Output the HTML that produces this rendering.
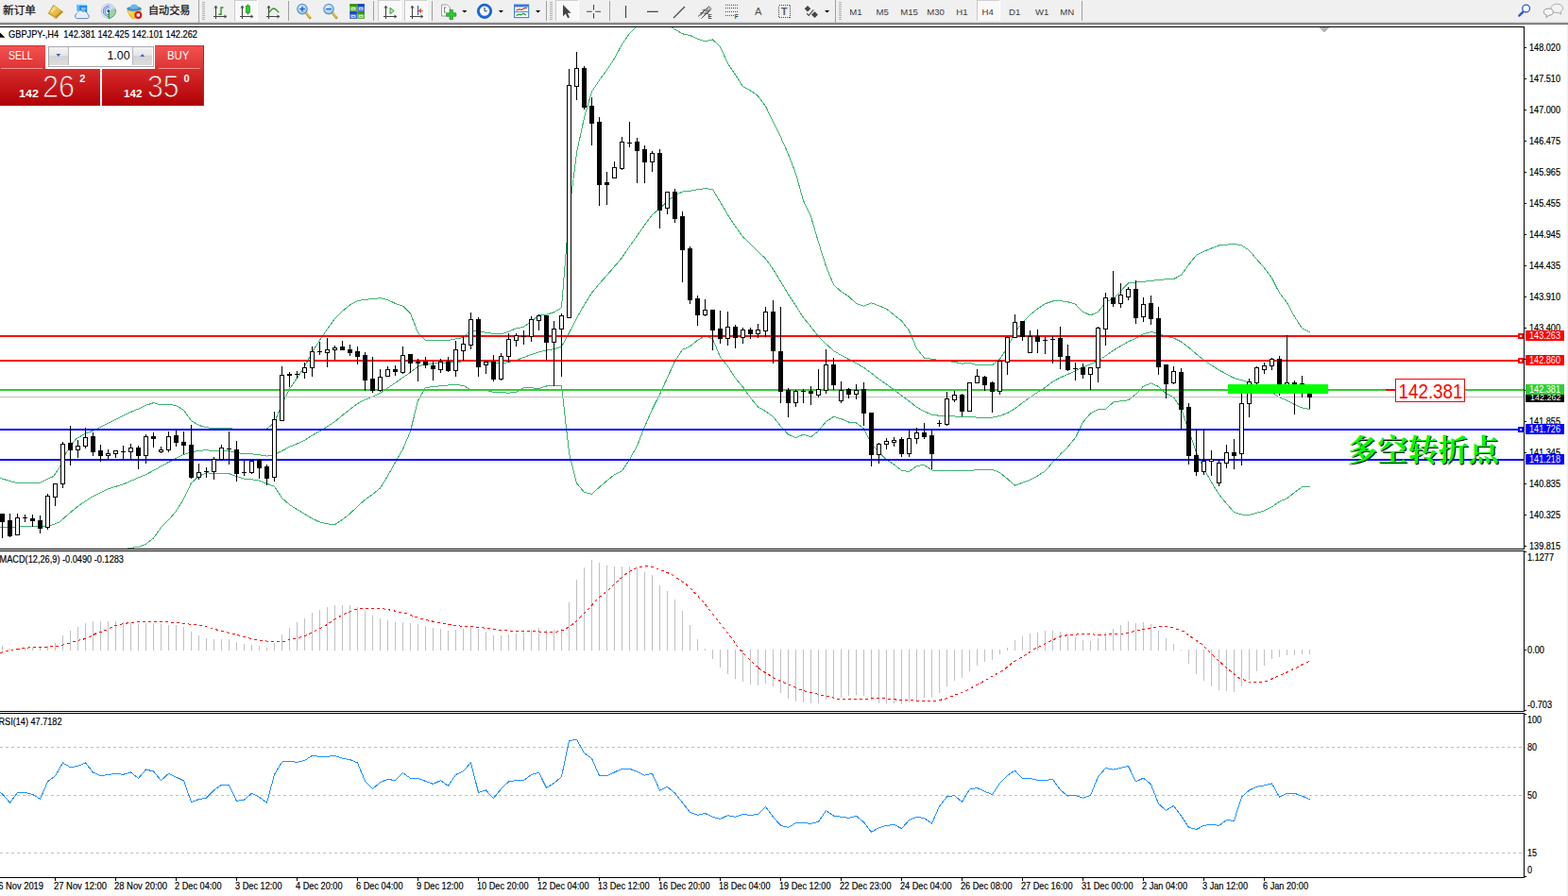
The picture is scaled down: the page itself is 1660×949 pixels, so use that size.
<!DOCTYPE html>
<html><head><meta charset="utf-8"><title>GBPJPY H4</title>
<style>
html,body{margin:0;padding:0;background:#fff}
body{width:1660px;height:949px;overflow:hidden;position:relative;font-family:"Liberation Sans",sans-serif}
svg{position:absolute;left:0;top:0}
svg text{font-family:"Liberation Sans",sans-serif}
.sm text{stroke:#000;stroke-width:0.18px}
</style></head><body>
<svg width="1660" height="949" viewBox="0 0 1660 949">
<g class="sm"><text x="1619" y="54" font-size="10.2" fill="#000" text-anchor="start"  textLength="33" lengthAdjust="spacingAndGlyphs">148.020</text><text x="1619" y="87" font-size="10.2" fill="#000" text-anchor="start"  textLength="33" lengthAdjust="spacingAndGlyphs">147.510</text><text x="1619" y="120" font-size="10.2" fill="#000" text-anchor="start"  textLength="33" lengthAdjust="spacingAndGlyphs">147.000</text><text x="1619" y="153" font-size="10.2" fill="#000" text-anchor="start"  textLength="33" lengthAdjust="spacingAndGlyphs">146.475</text><text x="1619" y="186" font-size="10.2" fill="#000" text-anchor="start"  textLength="33" lengthAdjust="spacingAndGlyphs">145.965</text><text x="1619" y="219" font-size="10.2" fill="#000" text-anchor="start"  textLength="33" lengthAdjust="spacingAndGlyphs">145.455</text><text x="1619" y="252" font-size="10.2" fill="#000" text-anchor="start"  textLength="33" lengthAdjust="spacingAndGlyphs">144.945</text><text x="1619" y="285" font-size="10.2" fill="#000" text-anchor="start"  textLength="33" lengthAdjust="spacingAndGlyphs">144.435</text><text x="1619" y="318" font-size="10.2" fill="#000" text-anchor="start"  textLength="33" lengthAdjust="spacingAndGlyphs">143.910</text><text x="1619" y="351" font-size="10.2" fill="#000" text-anchor="start"  textLength="33" lengthAdjust="spacingAndGlyphs">143.400</text><text x="1619" y="450" font-size="10.2" fill="#000" text-anchor="start"  textLength="33" lengthAdjust="spacingAndGlyphs">141.855</text><text x="1619" y="483" font-size="10.2" fill="#000" text-anchor="start"  textLength="33" lengthAdjust="spacingAndGlyphs">141.345</text><text x="1619" y="516" font-size="10.2" fill="#000" text-anchor="start"  textLength="33" lengthAdjust="spacingAndGlyphs">140.835</text><text x="1619" y="549" font-size="10.2" fill="#000" text-anchor="start"  textLength="33" lengthAdjust="spacingAndGlyphs">140.325</text><text x="1619" y="582" font-size="10.2" fill="#000" text-anchor="start"  textLength="33" lengthAdjust="spacingAndGlyphs">139.815</text><text x="1617" y="594" font-size="10.2" fill="#000" text-anchor="start"  textLength="28" lengthAdjust="spacingAndGlyphs">1.1277</text><text x="1617" y="691.5" font-size="10.2" fill="#000" text-anchor="start"  textLength="18" lengthAdjust="spacingAndGlyphs">0.00</text><text x="1617" y="750" font-size="10.2" fill="#000" text-anchor="start"  textLength="26" lengthAdjust="spacingAndGlyphs">-0.703</text><text x="1617" y="766" font-size="10.2" fill="#000" text-anchor="start"  textLength="15" lengthAdjust="spacingAndGlyphs">100</text><text x="1617" y="794.5" font-size="10.2" fill="#000" text-anchor="start"  textLength="10" lengthAdjust="spacingAndGlyphs">80</text><text x="1617" y="845.5" font-size="10.2" fill="#000" text-anchor="start"  textLength="10" lengthAdjust="spacingAndGlyphs">50</text><text x="1617" y="906.5" font-size="10.2" fill="#000" text-anchor="start"  textLength="10" lengthAdjust="spacingAndGlyphs">15</text><text x="1617" y="925.2" font-size="10.2" fill="#000" text-anchor="start"  textLength="5" lengthAdjust="spacingAndGlyphs">0</text><text x="9" y="40" font-size="10.2" fill="#000" text-anchor="start" textLength="200" lengthAdjust="spacingAndGlyphs">GBPJPY-,H4&#160;&#160;142.381 142.425 142.101 142.262</text><text x="-0.5" y="595.8" font-size="10.2" fill="#000" text-anchor="start"  textLength="131.5" lengthAdjust="spacingAndGlyphs">MACD(12,26,9) -0.0490 -0.1283</text><text x="-1.5" y="767.8" font-size="10.2" fill="#000" text-anchor="start"  textLength="67" lengthAdjust="spacingAndGlyphs">RSI(14) 47.7182</text><text x="-7" y="942" font-size="10.2" fill="#000" text-anchor="start"  textLength="53" lengthAdjust="spacingAndGlyphs">26 Nov 2019</text><text x="57" y="942" font-size="10.2" fill="#000" text-anchor="start"  textLength="56" lengthAdjust="spacingAndGlyphs">27 Nov 12:00</text><text x="121" y="942" font-size="10.2" fill="#000" text-anchor="start"  textLength="56" lengthAdjust="spacingAndGlyphs">28 Nov 20:00</text><text x="185" y="942" font-size="10.2" fill="#000" text-anchor="start"  textLength="49.5" lengthAdjust="spacingAndGlyphs">2 Dec 04:00</text><text x="249" y="942" font-size="10.2" fill="#000" text-anchor="start"  textLength="49.5" lengthAdjust="spacingAndGlyphs">3 Dec 12:00</text><text x="313" y="942" font-size="10.2" fill="#000" text-anchor="start"  textLength="49.5" lengthAdjust="spacingAndGlyphs">4 Dec 20:00</text><text x="377" y="942" font-size="10.2" fill="#000" text-anchor="start"  textLength="49.5" lengthAdjust="spacingAndGlyphs">6 Dec 04:00</text><text x="441" y="942" font-size="10.2" fill="#000" text-anchor="start"  textLength="49.5" lengthAdjust="spacingAndGlyphs">9 Dec 12:00</text><text x="505" y="942" font-size="10.2" fill="#000" text-anchor="start"  textLength="54.5" lengthAdjust="spacingAndGlyphs">10 Dec 20:00</text><text x="569" y="942" font-size="10.2" fill="#000" text-anchor="start"  textLength="54.5" lengthAdjust="spacingAndGlyphs">12 Dec 04:00</text><text x="633" y="942" font-size="10.2" fill="#000" text-anchor="start"  textLength="54.5" lengthAdjust="spacingAndGlyphs">13 Dec 12:00</text><text x="697" y="942" font-size="10.2" fill="#000" text-anchor="start"  textLength="54.5" lengthAdjust="spacingAndGlyphs">16 Dec 20:00</text><text x="761" y="942" font-size="10.2" fill="#000" text-anchor="start"  textLength="54.5" lengthAdjust="spacingAndGlyphs">18 Dec 04:00</text><text x="825" y="942" font-size="10.2" fill="#000" text-anchor="start"  textLength="54.5" lengthAdjust="spacingAndGlyphs">19 Dec 12:00</text><text x="889" y="942" font-size="10.2" fill="#000" text-anchor="start"  textLength="54.5" lengthAdjust="spacingAndGlyphs">22 Dec 23:00</text><text x="953" y="942" font-size="10.2" fill="#000" text-anchor="start"  textLength="54.5" lengthAdjust="spacingAndGlyphs">24 Dec 04:00</text><text x="1017" y="942" font-size="10.2" fill="#000" text-anchor="start"  textLength="54.5" lengthAdjust="spacingAndGlyphs">26 Dec 08:00</text><text x="1081" y="942" font-size="10.2" fill="#000" text-anchor="start"  textLength="54.5" lengthAdjust="spacingAndGlyphs">27 Dec 16:00</text><text x="1145" y="942" font-size="10.2" fill="#000" text-anchor="start"  textLength="54.5" lengthAdjust="spacingAndGlyphs">31 Dec 00:00</text><text x="1209" y="942" font-size="10.2" fill="#000" text-anchor="start"  textLength="48" lengthAdjust="spacingAndGlyphs">2 Jan 04:00</text><text x="1273" y="942" font-size="10.2" fill="#000" text-anchor="start"  textLength="48" lengthAdjust="spacingAndGlyphs">3 Jan 12:00</text><text x="1337" y="942" font-size="10.2" fill="#000" text-anchor="start"  textLength="48" lengthAdjust="spacingAndGlyphs">6 Jan 20:00</text></g>
<defs><clipPath id="c1"><rect x="0" y="29" width="1613" height="552"/></clipPath><clipPath id="c2"><rect x="0" y="584" width="1613" height="169"/></clipPath><clipPath id="c3"><rect x="0" y="756" width="1613" height="173"/></clipPath></defs><polyline points="0,506.4 16.9,511.3 42.2,511.3 56.9,504.3 63.2,494.9 69.6,480.1 80.1,465.3 88.5,460.1 101.2,455.2 118,446.4 134.9,437.9 147.6,432.7 154.5,429.3 162.5,426.7 170.5,428.9 178.5,428.2 186.5,429.7 194.5,434.4 202.5,445.7 210.5,450.4 218.5,452.8 226.5,453.5 234.5,453.3 242.5,453.6 250.5,454.5 258.5,454.1 266.5,454.2 274.5,454.3 282.5,454 290.5,447.8 298.5,427.8 306.5,412.1 314.5,400.4 322.5,388.2 330.5,373 338.5,360.3 346.5,348.6 354.5,337.6 362.5,329.5 370.5,323 378.5,318.6 386.5,317.3 394.5,316.7 402.5,315.7 410.5,317.6 418.5,321.5 426.5,324.1 434.5,332.1 442.5,352.4 450.5,360.3 458.5,360.5 466.5,360.3 474.5,360.5 482.5,358.9 490.5,357.7 498.5,349.6 506.5,350.8 514.5,352.3 522.5,353.4 530.5,353.9 538.5,351.2 546.5,347.7 554.5,346.4 562.5,340.3 570.5,334 578.5,333.3 586.5,330.7 594.5,325.9 602.5,225.5 610.5,161.8 618.5,124.6 626.5,97 634.5,85 642.5,74 650.5,61.9 658.5,46.9 666.5,35.5 674.5,27.3 682.5,24.7 690.5,21.5 698.5,23.6 706.5,25.9 714.5,31.1 722.5,35.8 730.5,37.5 738.5,41.2 746.5,43.8 754.5,41.9 762.5,49.6 770.5,67.2 778.5,79.1 786.5,91.7 794.5,95.9 802.5,101.8 810.5,112.5 818.5,128.8 826.5,145.2 834.5,163.1 842.5,183.9 850.5,212.5 858.5,229.4 866.5,256.6 874.5,282.1 882.5,301.6 890.5,308.9 898.5,314 906.5,321.5 914.5,324.2 922.5,320.8 930.5,323.8 938.5,327.1 946.5,333.6 954.5,339.9 962.5,350.2 970.5,369.2 978.5,379.1 986.5,380.3 994.5,381.6 1002.5,382.7 1010.5,383.3 1018.5,385.2 1026.5,384.1 1034.5,386.8 1042.5,386.8 1050.5,387 1058.5,380.2 1066.5,368.2 1074.5,351.5 1082.5,341.8 1090.5,333.4 1098.5,327 1106.5,321.7 1114.5,319 1122.5,318.6 1130.5,319.7 1138.5,322.2 1146.5,330.2 1154.5,333.9 1162.5,330.4 1170.5,320.4 1178.5,316.3 1186.5,308.3 1194.5,300 1202.5,299.1 1210.5,298.3 1218.5,297.3 1226.5,296.6 1234.5,295.7 1242.5,295.5 1250.5,291.4 1258.5,280.2 1266.5,270.4 1274.5,266.2 1282.5,263 1290.5,260 1298.5,259.1 1306.5,258.4 1314.5,259.9 1322.5,265.1 1330.5,274.7 1338.5,283.7 1346.5,294.5 1354.5,310.3 1362.5,320.5 1370.5,335.4 1378.5,347.9 1386.5,351.9" fill="none" stroke="#3cb371" stroke-width="1" clip-path="url(#c1)" shape-rendering="crispEdges" /><polyline points="0,558.5 52.7,557 63.2,552.8 73.8,543.3 84.3,534.9 97,526.5 113.8,518 130.7,512.8 147.6,505.4 154.5,502.7 162.5,498.4 170.5,493.8 178.5,489.5 186.5,485.4 194.5,481.4 202.5,478.7 210.5,477.4 218.5,476.7 226.5,477.6 234.5,477.4 242.5,477.6 250.5,479.5 258.5,480.6 266.5,480.9 274.5,481.7 282.5,483.1 290.5,481.5 298.5,477.6 306.5,473.3 314.5,470 322.5,466.3 330.5,461.1 338.5,456.6 346.5,451.8 354.5,446.6 362.5,439.9 370.5,433.6 378.5,427.5 386.5,423.2 394.5,420.2 402.5,416.4 410.5,410.9 418.5,405.5 426.5,399.9 434.5,394.4 442.5,388.3 450.5,385.4 458.5,385.1 466.5,384.5 474.5,384.2 482.5,383.3 490.5,382.9 498.5,381.2 506.5,382.1 514.5,382.9 522.5,384.4 530.5,384.6 538.5,383.8 546.5,381.4 554.5,378.6 562.5,375.5 570.5,372.7 578.5,371.1 586.5,369.8 594.5,367.3 602.5,352.6 610.5,336.8 618.5,322.9 626.5,310.3 634.5,300.4 642.5,291.6 650.5,282.3 658.5,272.9 666.5,261 674.5,249.8 682.5,238.3 690.5,227.5 698.5,220.7 706.5,213.1 714.5,206.8 722.5,203.1 730.5,202.2 738.5,200.8 746.5,199.7 754.5,200.5 762.5,213.9 770.5,227.6 778.5,239.8 786.5,250.8 794.5,258.7 802.5,266.4 810.5,274.1 818.5,285.1 826.5,298.2 834.5,311.6 842.5,323.7 850.5,336.3 858.5,346.1 866.5,356.5 874.5,364.3 882.5,371.5 890.5,376.3 898.5,380.5 906.5,384.7 914.5,389.2 922.5,395.3 930.5,401.5 938.5,407 946.5,412.8 954.5,419.1 962.5,424.9 970.5,431.3 978.5,435.8 986.5,439.1 994.5,440.3 1002.5,440.7 1010.5,440.9 1018.5,441.8 1026.5,441.5 1034.5,442.1 1042.5,442.1 1050.5,442.2 1058.5,440.4 1066.5,437.6 1074.5,432.8 1082.5,426.6 1090.5,420.9 1098.5,415.5 1106.5,410.3 1114.5,404.2 1122.5,399.9 1130.5,396.5 1138.5,392.9 1146.5,388.8 1154.5,385.8 1162.5,382.1 1170.5,376.9 1178.5,371.2 1186.5,366.5 1194.5,361.9 1202.5,358.3 1210.5,353.8 1218.5,351.5 1226.5,353 1234.5,356.3 1242.5,358.1 1250.5,361.9 1258.5,368 1266.5,374.9 1274.5,381.4 1282.5,386.8 1290.5,391.8 1298.5,396.3 1306.5,400.6 1314.5,402.5 1322.5,405.3 1330.5,409 1338.5,412.3 1346.5,415.7 1354.5,420.8 1362.5,424.2 1370.5,428.5 1378.5,431.9 1386.5,433.6" fill="none" stroke="#3cb371" stroke-width="1" clip-path="url(#c1)" shape-rendering="crispEdges" /><polyline points="100,590 137,580.6 147.6,579.2 154.5,576.2 162.5,570 170.5,558.6 178.5,550.8 186.5,541.2 194.5,528.4 202.5,511.6 210.5,504.4 218.5,500.7 226.5,501.6 234.5,501.5 242.5,501.6 250.5,504.6 258.5,507.1 266.5,507.7 274.5,509.1 282.5,512.3 290.5,515.1 298.5,527.4 306.5,534.5 314.5,539.7 322.5,544.4 330.5,549.2 338.5,552.9 346.5,554.9 354.5,555.6 362.5,550.3 370.5,544.1 378.5,536.4 386.5,529.2 394.5,523.6 402.5,517 410.5,504.1 418.5,489.6 426.5,475.8 434.5,456.7 442.5,424.3 450.5,410.5 458.5,409.7 466.5,408.6 474.5,408 482.5,407.7 490.5,408.2 498.5,412.9 506.5,413.4 514.5,413.5 522.5,415.4 530.5,415.4 538.5,416.3 546.5,415.1 554.5,410.8 562.5,410.8 570.5,411.4 578.5,409 586.5,408.8 594.5,408.6 602.5,479.6 610.5,511.9 618.5,521.3 626.5,523.5 634.5,515.9 642.5,509.3 650.5,502.7 658.5,498.9 666.5,486.6 674.5,472.3 682.5,451.9 690.5,433.6 698.5,417.7 706.5,400.2 714.5,382.5 722.5,370.4 730.5,366.9 738.5,360.3 746.5,355.7 754.5,359 762.5,378.1 770.5,387.9 778.5,400.5 786.5,409.9 794.5,421.5 802.5,431 810.5,435.6 818.5,441.3 826.5,451.3 834.5,460.1 842.5,463.6 850.5,460.2 858.5,462.8 866.5,456.4 874.5,446.5 882.5,441.4 890.5,443.6 898.5,447 906.5,448 914.5,454.1 922.5,469.8 930.5,479.2 938.5,486.9 946.5,492 954.5,498.4 962.5,499.6 970.5,493.4 978.5,492.6 986.5,498 994.5,498.9 1002.5,498.7 1010.5,498.5 1018.5,498.5 1026.5,498.9 1034.5,497.4 1042.5,497.4 1050.5,497.3 1058.5,500.6 1066.5,507.1 1074.5,514.1 1082.5,511.3 1090.5,508.4 1098.5,504.1 1106.5,498.8 1114.5,489.5 1122.5,481.2 1130.5,473.3 1138.5,463.7 1146.5,447.3 1154.5,437.8 1162.5,433.8 1170.5,433.4 1178.5,426.1 1186.5,424.8 1194.5,423.8 1202.5,417.5 1210.5,409.2 1218.5,405.8 1226.5,409.5 1234.5,416.8 1242.5,420.8 1250.5,432.5 1258.5,455.9 1266.5,479.5 1274.5,496.7 1282.5,510.7 1290.5,523.6 1298.5,533.4 1306.5,542.7 1314.5,545 1322.5,545.5 1330.5,543.3 1338.5,540.9 1346.5,536.9 1354.5,531.2 1362.5,527.9 1370.5,521.5 1378.5,515.9 1386.5,515.3" fill="none" stroke="#3cb371" stroke-width="1" clip-path="url(#c1)" shape-rendering="crispEdges" /><g shape-rendering="crispEdges"><rect x="0" y="420" width="1613" height="1" fill="#c0c0c0"/><rect x="0" y="412" width="1613" height="2" fill="#32cd32"/><rect x="0" y="355" width="1613" height="2" fill="#ff0000"/><rect x="0" y="381" width="1613" height="2" fill="#ff0000"/><rect x="0" y="454" width="1613" height="2" fill="#0000ff"/><rect x="0" y="486" width="1613" height="2" fill="#0000ff"/></g><g shape-rendering="crispEdges" clip-path="url(#c1)"><rect x="2" y="544" width="1" height="26" fill="#000"/><rect x="0" y="544" width="5" height="9" fill="#000"/><rect x="10" y="544" width="1" height="25" fill="#000"/><rect x="8" y="551" width="5" height="17" fill="#000"/><rect x="18" y="544" width="1" height="23" fill="#000"/><rect x="16" y="548" width="5" height="19" fill="#000"/><rect x="17" y="549" width="3" height="17" fill="#fff"/><rect x="26" y="545" width="1" height="8" fill="#000"/><rect x="24" y="548" width="5" height="1" fill="#000"/><rect x="34" y="545" width="1" height="13" fill="#000"/><rect x="32" y="549" width="5" height="3" fill="#000"/><rect x="42" y="546" width="1" height="19" fill="#000"/><rect x="40" y="551" width="5" height="9" fill="#000"/><rect x="50" y="523" width="1" height="38" fill="#000"/><rect x="48" y="525" width="5" height="34" fill="#000"/><rect x="49" y="526" width="3" height="32" fill="#fff"/><rect x="58" y="512" width="1" height="24" fill="#000"/><rect x="56" y="512" width="5" height="15" fill="#000"/><rect x="57" y="513" width="3" height="13" fill="#fff"/><rect x="66" y="468" width="1" height="49" fill="#000"/><rect x="64" y="470" width="5" height="43" fill="#000"/><rect x="65" y="471" width="3" height="41" fill="#fff"/><rect x="74" y="451" width="1" height="42" fill="#000"/><rect x="72" y="469" width="5" height="8" fill="#000"/><rect x="82" y="466" width="1" height="19" fill="#000"/><rect x="80" y="472" width="5" height="5" fill="#000"/><rect x="81" y="473" width="3" height="3" fill="#fff"/><rect x="90" y="453" width="1" height="22" fill="#000"/><rect x="88" y="463" width="5" height="10" fill="#000"/><rect x="89" y="464" width="3" height="8" fill="#fff"/><rect x="98" y="458" width="1" height="25" fill="#000"/><rect x="96" y="462" width="5" height="17" fill="#000"/><rect x="106" y="471" width="1" height="18" fill="#000"/><rect x="104" y="477" width="5" height="6" fill="#000"/><rect x="114" y="476" width="1" height="11" fill="#000"/><rect x="112" y="480" width="5" height="3" fill="#000"/><rect x="113" y="481" width="3" height="1" fill="#fff"/><rect x="122" y="477" width="1" height="8" fill="#000"/><rect x="120" y="477" width="5" height="4" fill="#000"/><rect x="121" y="478" width="3" height="2" fill="#fff"/><rect x="130" y="472" width="1" height="14" fill="#000"/><rect x="128" y="478" width="5" height="1" fill="#000"/><rect x="138" y="470" width="1" height="17" fill="#000"/><rect x="136" y="474" width="5" height="5" fill="#000"/><rect x="137" y="475" width="3" height="3" fill="#fff"/><rect x="146" y="472" width="1" height="25" fill="#000"/><rect x="144" y="474" width="5" height="9" fill="#000"/><rect x="154" y="460" width="1" height="31" fill="#000"/><rect x="152" y="462" width="5" height="21" fill="#000"/><rect x="153" y="463" width="3" height="19" fill="#fff"/><rect x="162" y="458" width="1" height="16" fill="#000"/><rect x="160" y="462" width="5" height="3" fill="#000"/><rect x="170" y="473" width="1" height="7" fill="#000"/><rect x="168" y="476" width="5" height="3" fill="#000"/><rect x="169" y="477" width="3" height="1" fill="#fff"/><rect x="178" y="457" width="1" height="22" fill="#000"/><rect x="176" y="462" width="5" height="15" fill="#000"/><rect x="177" y="463" width="3" height="13" fill="#fff"/><rect x="186" y="456" width="1" height="17" fill="#000"/><rect x="184" y="461" width="5" height="8" fill="#000"/><rect x="194" y="457" width="1" height="24" fill="#000"/><rect x="192" y="468" width="5" height="4" fill="#000"/><rect x="202" y="450" width="1" height="57" fill="#000"/><rect x="200" y="471" width="5" height="35" fill="#000"/><rect x="210" y="491" width="1" height="17" fill="#000"/><rect x="208" y="500" width="5" height="6" fill="#000"/><rect x="209" y="501" width="3" height="4" fill="#fff"/><rect x="218" y="495" width="1" height="11" fill="#000"/><rect x="216" y="499" width="5" height="1" fill="#000"/><rect x="226" y="484" width="1" height="24" fill="#000"/><rect x="224" y="486" width="5" height="14" fill="#000"/><rect x="225" y="487" width="3" height="12" fill="#fff"/><rect x="234" y="471" width="1" height="17" fill="#000"/><rect x="232" y="474" width="5" height="13" fill="#000"/><rect x="233" y="475" width="3" height="11" fill="#fff"/><rect x="242" y="457" width="1" height="35" fill="#000"/><rect x="240" y="475" width="5" height="1" fill="#000"/><rect x="250" y="467" width="1" height="43" fill="#000"/><rect x="248" y="476" width="5" height="26" fill="#000"/><rect x="258" y="488" width="1" height="16" fill="#000"/><rect x="256" y="500" width="5" height="1" fill="#000"/><rect x="266" y="487" width="1" height="15" fill="#000"/><rect x="264" y="488" width="5" height="13" fill="#000"/><rect x="265" y="489" width="3" height="11" fill="#fff"/><rect x="274" y="486" width="1" height="21" fill="#000"/><rect x="272" y="487" width="5" height="9" fill="#000"/><rect x="282" y="492" width="1" height="22" fill="#000"/><rect x="280" y="494" width="5" height="13" fill="#000"/><rect x="290" y="436" width="1" height="74" fill="#000"/><rect x="288" y="444" width="5" height="62" fill="#000"/><rect x="289" y="445" width="3" height="60" fill="#fff"/><rect x="298" y="388" width="1" height="58" fill="#000"/><rect x="296" y="397" width="5" height="49" fill="#000"/><rect x="297" y="398" width="3" height="47" fill="#fff"/><rect x="306" y="394" width="1" height="16" fill="#000"/><rect x="304" y="396" width="5" height="2" fill="#000"/><rect x="314" y="393" width="1" height="8" fill="#000"/><rect x="312" y="396" width="5" height="1" fill="#000"/><rect x="322" y="384" width="1" height="17" fill="#000"/><rect x="320" y="389" width="5" height="6" fill="#000"/><rect x="321" y="390" width="3" height="4" fill="#fff"/><rect x="330" y="367" width="1" height="32" fill="#000"/><rect x="328" y="372" width="5" height="18" fill="#000"/><rect x="329" y="373" width="3" height="16" fill="#fff"/><rect x="338" y="362" width="1" height="14" fill="#000"/><rect x="336" y="372" width="5" height="1" fill="#000"/><rect x="346" y="358" width="1" height="31" fill="#000"/><rect x="344" y="370" width="5" height="4" fill="#000"/><rect x="345" y="371" width="3" height="2" fill="#fff"/><rect x="354" y="366" width="1" height="15" fill="#000"/><rect x="352" y="368" width="5" height="3" fill="#000"/><rect x="353" y="369" width="3" height="1" fill="#fff"/><rect x="362" y="361" width="1" height="10" fill="#000"/><rect x="360" y="367" width="5" height="4" fill="#000"/><rect x="370" y="365" width="1" height="12" fill="#000"/><rect x="368" y="370" width="5" height="4" fill="#000"/><rect x="378" y="367" width="1" height="19" fill="#000"/><rect x="376" y="372" width="5" height="6" fill="#000"/><rect x="386" y="373" width="1" height="41" fill="#000"/><rect x="384" y="376" width="5" height="27" fill="#000"/><rect x="394" y="378" width="1" height="38" fill="#000"/><rect x="392" y="401" width="5" height="13" fill="#000"/><rect x="402" y="391" width="1" height="24" fill="#000"/><rect x="400" y="399" width="5" height="15" fill="#000"/><rect x="401" y="400" width="3" height="13" fill="#fff"/><rect x="410" y="388" width="1" height="11" fill="#000"/><rect x="408" y="391" width="5" height="8" fill="#000"/><rect x="409" y="392" width="3" height="6" fill="#fff"/><rect x="418" y="387" width="1" height="11" fill="#000"/><rect x="416" y="391" width="5" height="3" fill="#000"/><rect x="426" y="367" width="1" height="29" fill="#000"/><rect x="424" y="376" width="5" height="19" fill="#000"/><rect x="425" y="377" width="3" height="17" fill="#fff"/><rect x="434" y="375" width="1" height="20" fill="#000"/><rect x="432" y="375" width="5" height="10" fill="#000"/><rect x="442" y="380" width="1" height="24" fill="#000"/><rect x="440" y="383" width="5" height="2" fill="#000"/><rect x="450" y="378" width="1" height="12" fill="#000"/><rect x="448" y="383" width="5" height="4" fill="#000"/><rect x="458" y="383" width="1" height="20" fill="#000"/><rect x="456" y="387" width="5" height="4" fill="#000"/><rect x="466" y="380" width="1" height="15" fill="#000"/><rect x="464" y="383" width="5" height="9" fill="#000"/><rect x="465" y="384" width="3" height="7" fill="#fff"/><rect x="474" y="378" width="1" height="16" fill="#000"/><rect x="472" y="383" width="5" height="10" fill="#000"/><rect x="482" y="361" width="1" height="38" fill="#000"/><rect x="480" y="370" width="5" height="23" fill="#000"/><rect x="481" y="371" width="3" height="21" fill="#fff"/><rect x="490" y="356" width="1" height="26" fill="#000"/><rect x="488" y="364" width="5" height="8" fill="#000"/><rect x="489" y="365" width="3" height="6" fill="#fff"/><rect x="498" y="331" width="1" height="39" fill="#000"/><rect x="496" y="338" width="5" height="28" fill="#000"/><rect x="497" y="339" width="3" height="26" fill="#fff"/><rect x="506" y="336" width="1" height="63" fill="#000"/><rect x="504" y="338" width="5" height="51" fill="#000"/><rect x="514" y="382" width="1" height="14" fill="#000"/><rect x="512" y="383" width="5" height="4" fill="#000"/><rect x="513" y="384" width="3" height="2" fill="#fff"/><rect x="522" y="376" width="1" height="28" fill="#000"/><rect x="520" y="383" width="5" height="19" fill="#000"/><rect x="530" y="374" width="1" height="29" fill="#000"/><rect x="528" y="377" width="5" height="25" fill="#000"/><rect x="529" y="378" width="3" height="23" fill="#fff"/><rect x="538" y="353" width="1" height="31" fill="#000"/><rect x="536" y="359" width="5" height="19" fill="#000"/><rect x="537" y="360" width="3" height="17" fill="#fff"/><rect x="546" y="353" width="1" height="14" fill="#000"/><rect x="544" y="355" width="5" height="6" fill="#000"/><rect x="545" y="356" width="3" height="4" fill="#fff"/><rect x="554" y="350" width="1" height="15" fill="#000"/><rect x="552" y="356" width="5" height="1" fill="#000"/><rect x="562" y="335" width="1" height="27" fill="#000"/><rect x="560" y="338" width="5" height="19" fill="#000"/><rect x="561" y="339" width="3" height="17" fill="#fff"/><rect x="570" y="333" width="1" height="17" fill="#000"/><rect x="568" y="334" width="5" height="6" fill="#000"/><rect x="569" y="335" width="3" height="4" fill="#fff"/><rect x="578" y="334" width="1" height="47" fill="#000"/><rect x="576" y="334" width="5" height="29" fill="#000"/><rect x="586" y="340" width="1" height="69" fill="#000"/><rect x="584" y="348" width="5" height="15" fill="#000"/><rect x="585" y="349" width="3" height="13" fill="#fff"/><rect x="594" y="332" width="1" height="67" fill="#000"/><rect x="592" y="334" width="5" height="15" fill="#000"/><rect x="593" y="335" width="3" height="13" fill="#fff"/><rect x="602" y="73" width="1" height="264" fill="#000"/><rect x="600" y="90" width="5" height="247" fill="#000"/><rect x="601" y="91" width="3" height="245" fill="#fff"/><rect x="610" y="55" width="1" height="51" fill="#000"/><rect x="608" y="72" width="5" height="20" fill="#000"/><rect x="609" y="73" width="3" height="18" fill="#fff"/><rect x="618" y="70" width="1" height="46" fill="#000"/><rect x="616" y="72" width="5" height="42" fill="#000"/><rect x="626" y="103" width="1" height="51" fill="#000"/><rect x="624" y="112" width="5" height="19" fill="#000"/><rect x="634" y="124" width="1" height="94" fill="#000"/><rect x="632" y="129" width="5" height="67" fill="#000"/><rect x="642" y="182" width="1" height="35" fill="#000"/><rect x="640" y="193" width="5" height="3" fill="#000"/><rect x="650" y="171" width="1" height="18" fill="#000"/><rect x="648" y="177" width="5" height="12" fill="#000"/><rect x="649" y="178" width="3" height="10" fill="#fff"/><rect x="658" y="145" width="1" height="35" fill="#000"/><rect x="656" y="150" width="5" height="29" fill="#000"/><rect x="657" y="151" width="3" height="27" fill="#fff"/><rect x="666" y="129" width="1" height="27" fill="#000"/><rect x="664" y="151" width="5" height="1" fill="#000"/><rect x="674" y="146" width="1" height="48" fill="#000"/><rect x="672" y="150" width="5" height="10" fill="#000"/><rect x="682" y="154" width="1" height="40" fill="#000"/><rect x="680" y="158" width="5" height="14" fill="#000"/><rect x="690" y="160" width="1" height="22" fill="#000"/><rect x="688" y="162" width="5" height="10" fill="#000"/><rect x="689" y="163" width="3" height="8" fill="#fff"/><rect x="698" y="158" width="1" height="84" fill="#000"/><rect x="696" y="162" width="5" height="61" fill="#000"/><rect x="706" y="203" width="1" height="24" fill="#000"/><rect x="704" y="203" width="5" height="18" fill="#000"/><rect x="705" y="204" width="3" height="16" fill="#fff"/><rect x="714" y="200" width="1" height="36" fill="#000"/><rect x="712" y="203" width="5" height="29" fill="#000"/><rect x="722" y="224" width="1" height="75" fill="#000"/><rect x="720" y="229" width="5" height="36" fill="#000"/><rect x="730" y="261" width="1" height="61" fill="#000"/><rect x="728" y="263" width="5" height="55" fill="#000"/><rect x="738" y="313" width="1" height="32" fill="#000"/><rect x="736" y="316" width="5" height="18" fill="#000"/><rect x="746" y="317" width="1" height="18" fill="#000"/><rect x="744" y="328" width="5" height="6" fill="#000"/><rect x="745" y="329" width="3" height="4" fill="#fff"/><rect x="754" y="328" width="1" height="43" fill="#000"/><rect x="752" y="328" width="5" height="22" fill="#000"/><rect x="762" y="329" width="1" height="35" fill="#000"/><rect x="760" y="348" width="5" height="11" fill="#000"/><rect x="770" y="330" width="1" height="36" fill="#000"/><rect x="768" y="346" width="5" height="13" fill="#000"/><rect x="769" y="347" width="3" height="11" fill="#fff"/><rect x="778" y="344" width="1" height="25" fill="#000"/><rect x="776" y="346" width="5" height="12" fill="#000"/><rect x="786" y="347" width="1" height="17" fill="#000"/><rect x="784" y="349" width="5" height="9" fill="#000"/><rect x="785" y="350" width="3" height="7" fill="#fff"/><rect x="794" y="347" width="1" height="12" fill="#000"/><rect x="792" y="349" width="5" height="5" fill="#000"/><rect x="802" y="343" width="1" height="15" fill="#000"/><rect x="800" y="349" width="5" height="5" fill="#000"/><rect x="801" y="350" width="3" height="3" fill="#fff"/><rect x="810" y="325" width="1" height="32" fill="#000"/><rect x="808" y="330" width="5" height="21" fill="#000"/><rect x="809" y="331" width="3" height="19" fill="#fff"/><rect x="818" y="318" width="1" height="67" fill="#000"/><rect x="816" y="330" width="5" height="42" fill="#000"/><rect x="826" y="325" width="1" height="102" fill="#000"/><rect x="824" y="372" width="5" height="43" fill="#000"/><rect x="834" y="411" width="1" height="31" fill="#000"/><rect x="832" y="413" width="5" height="14" fill="#000"/><rect x="842" y="413" width="1" height="18" fill="#000"/><rect x="840" y="414" width="5" height="13" fill="#000"/><rect x="841" y="415" width="3" height="11" fill="#fff"/><rect x="850" y="412" width="1" height="15" fill="#000"/><rect x="848" y="414" width="5" height="1" fill="#000"/><rect x="858" y="409" width="1" height="20" fill="#000"/><rect x="856" y="414" width="5" height="3" fill="#000"/><rect x="866" y="391" width="1" height="30" fill="#000"/><rect x="864" y="412" width="5" height="7" fill="#000"/><rect x="865" y="413" width="3" height="5" fill="#fff"/><rect x="874" y="370" width="1" height="47" fill="#000"/><rect x="872" y="386" width="5" height="28" fill="#000"/><rect x="873" y="387" width="3" height="26" fill="#fff"/><rect x="882" y="379" width="1" height="34" fill="#000"/><rect x="880" y="386" width="5" height="22" fill="#000"/><rect x="890" y="404" width="1" height="23" fill="#000"/><rect x="888" y="413" width="5" height="12" fill="#000"/><rect x="889" y="414" width="3" height="10" fill="#fff"/><rect x="898" y="411" width="1" height="11" fill="#000"/><rect x="896" y="412" width="5" height="6" fill="#000"/><rect x="906" y="407" width="1" height="16" fill="#000"/><rect x="904" y="413" width="5" height="5" fill="#000"/><rect x="905" y="414" width="3" height="3" fill="#fff"/><rect x="914" y="405" width="1" height="46" fill="#000"/><rect x="912" y="412" width="5" height="26" fill="#000"/><rect x="922" y="437" width="1" height="57" fill="#000"/><rect x="920" y="437" width="5" height="45" fill="#000"/><rect x="930" y="469" width="1" height="22" fill="#000"/><rect x="928" y="470" width="5" height="12" fill="#000"/><rect x="929" y="471" width="3" height="10" fill="#fff"/><rect x="938" y="464" width="1" height="12" fill="#000"/><rect x="936" y="467" width="5" height="4" fill="#000"/><rect x="937" y="468" width="3" height="2" fill="#fff"/><rect x="946" y="463" width="1" height="10" fill="#000"/><rect x="944" y="466" width="5" height="3" fill="#000"/><rect x="945" y="467" width="3" height="1" fill="#fff"/><rect x="954" y="463" width="1" height="21" fill="#000"/><rect x="952" y="465" width="5" height="16" fill="#000"/><rect x="962" y="456" width="1" height="28" fill="#000"/><rect x="960" y="464" width="5" height="17" fill="#000"/><rect x="961" y="465" width="3" height="15" fill="#fff"/><rect x="970" y="453" width="1" height="17" fill="#000"/><rect x="968" y="458" width="5" height="7" fill="#000"/><rect x="969" y="459" width="3" height="5" fill="#fff"/><rect x="978" y="448" width="1" height="17" fill="#000"/><rect x="976" y="458" width="5" height="5" fill="#000"/><rect x="986" y="456" width="1" height="41" fill="#000"/><rect x="984" y="461" width="5" height="20" fill="#000"/><rect x="994" y="445" width="1" height="7" fill="#000"/><rect x="992" y="448" width="5" height="1" fill="#000"/><rect x="1002" y="415" width="1" height="36" fill="#000"/><rect x="1000" y="422" width="5" height="28" fill="#000"/><rect x="1001" y="423" width="3" height="26" fill="#fff"/><rect x="1010" y="414" width="1" height="12" fill="#000"/><rect x="1008" y="418" width="5" height="6" fill="#000"/><rect x="1009" y="419" width="3" height="4" fill="#fff"/><rect x="1018" y="417" width="1" height="24" fill="#000"/><rect x="1016" y="418" width="5" height="18" fill="#000"/><rect x="1026" y="405" width="1" height="31" fill="#000"/><rect x="1024" y="405" width="5" height="31" fill="#000"/><rect x="1025" y="406" width="3" height="29" fill="#fff"/><rect x="1034" y="391" width="1" height="15" fill="#000"/><rect x="1032" y="398" width="5" height="8" fill="#000"/><rect x="1033" y="399" width="3" height="6" fill="#fff"/><rect x="1042" y="398" width="1" height="16" fill="#000"/><rect x="1040" y="399" width="5" height="9" fill="#000"/><rect x="1050" y="404" width="1" height="33" fill="#000"/><rect x="1048" y="405" width="5" height="10" fill="#000"/><rect x="1058" y="382" width="1" height="36" fill="#000"/><rect x="1056" y="382" width="5" height="33" fill="#000"/><rect x="1057" y="383" width="3" height="31" fill="#fff"/><rect x="1066" y="356" width="1" height="41" fill="#000"/><rect x="1064" y="357" width="5" height="27" fill="#000"/><rect x="1065" y="358" width="3" height="25" fill="#fff"/><rect x="1074" y="333" width="1" height="25" fill="#000"/><rect x="1072" y="341" width="5" height="17" fill="#000"/><rect x="1073" y="342" width="3" height="15" fill="#fff"/><rect x="1082" y="340" width="1" height="21" fill="#000"/><rect x="1080" y="340" width="5" height="17" fill="#000"/><rect x="1090" y="350" width="1" height="24" fill="#000"/><rect x="1088" y="356" width="5" height="18" fill="#000"/><rect x="1089" y="357" width="3" height="16" fill="#fff"/><rect x="1098" y="349" width="1" height="25" fill="#000"/><rect x="1096" y="356" width="5" height="6" fill="#000"/><rect x="1106" y="357" width="1" height="18" fill="#000"/><rect x="1104" y="360" width="5" height="1" fill="#000"/><rect x="1114" y="356" width="1" height="29" fill="#000"/><rect x="1112" y="359" width="5" height="1" fill="#000"/><rect x="1122" y="346" width="1" height="45" fill="#000"/><rect x="1120" y="358" width="5" height="20" fill="#000"/><rect x="1130" y="365" width="1" height="28" fill="#000"/><rect x="1128" y="377" width="5" height="15" fill="#000"/><rect x="1138" y="384" width="1" height="19" fill="#000"/><rect x="1136" y="390" width="5" height="1" fill="#000"/><rect x="1146" y="385" width="1" height="16" fill="#000"/><rect x="1144" y="389" width="5" height="8" fill="#000"/><rect x="1154" y="389" width="1" height="24" fill="#000"/><rect x="1152" y="389" width="5" height="8" fill="#000"/><rect x="1153" y="390" width="3" height="6" fill="#fff"/><rect x="1162" y="346" width="1" height="59" fill="#000"/><rect x="1160" y="347" width="5" height="43" fill="#000"/><rect x="1161" y="348" width="3" height="41" fill="#fff"/><rect x="1170" y="310" width="1" height="56" fill="#000"/><rect x="1168" y="315" width="5" height="34" fill="#000"/><rect x="1169" y="316" width="3" height="32" fill="#fff"/><rect x="1178" y="287" width="1" height="38" fill="#000"/><rect x="1176" y="315" width="5" height="7" fill="#000"/><rect x="1186" y="300" width="1" height="26" fill="#000"/><rect x="1184" y="312" width="5" height="10" fill="#000"/><rect x="1185" y="313" width="3" height="8" fill="#fff"/><rect x="1194" y="304" width="1" height="14" fill="#000"/><rect x="1192" y="306" width="5" height="9" fill="#000"/><rect x="1193" y="307" width="3" height="7" fill="#fff"/><rect x="1202" y="297" width="1" height="46" fill="#000"/><rect x="1200" y="306" width="5" height="31" fill="#000"/><rect x="1210" y="315" width="1" height="26" fill="#000"/><rect x="1208" y="322" width="5" height="14" fill="#000"/><rect x="1209" y="323" width="3" height="12" fill="#fff"/><rect x="1218" y="313" width="1" height="31" fill="#000"/><rect x="1216" y="321" width="5" height="17" fill="#000"/><rect x="1226" y="325" width="1" height="72" fill="#000"/><rect x="1224" y="337" width="5" height="52" fill="#000"/><rect x="1234" y="386" width="1" height="36" fill="#000"/><rect x="1232" y="386" width="5" height="21" fill="#000"/><rect x="1242" y="388" width="1" height="19" fill="#000"/><rect x="1240" y="393" width="5" height="13" fill="#000"/><rect x="1241" y="394" width="3" height="11" fill="#fff"/><rect x="1250" y="390" width="1" height="65" fill="#000"/><rect x="1248" y="394" width="5" height="40" fill="#000"/><rect x="1258" y="427" width="1" height="65" fill="#000"/><rect x="1256" y="431" width="5" height="52" fill="#000"/><rect x="1266" y="456" width="1" height="48" fill="#000"/><rect x="1264" y="482" width="5" height="18" fill="#000"/><rect x="1274" y="454" width="1" height="49" fill="#000"/><rect x="1272" y="488" width="5" height="12" fill="#000"/><rect x="1273" y="489" width="3" height="10" fill="#fff"/><rect x="1282" y="477" width="1" height="27" fill="#000"/><rect x="1280" y="486" width="5" height="3" fill="#000"/><rect x="1281" y="487" width="3" height="1" fill="#fff"/><rect x="1290" y="487" width="1" height="28" fill="#000"/><rect x="1288" y="490" width="5" height="22" fill="#000"/><rect x="1289" y="491" width="3" height="20" fill="#fff"/><rect x="1298" y="471" width="1" height="25" fill="#000"/><rect x="1296" y="479" width="5" height="12" fill="#000"/><rect x="1297" y="480" width="3" height="10" fill="#fff"/><rect x="1306" y="465" width="1" height="32" fill="#000"/><rect x="1304" y="479" width="5" height="4" fill="#000"/><rect x="1314" y="413" width="1" height="80" fill="#000"/><rect x="1312" y="427" width="5" height="54" fill="#000"/><rect x="1313" y="428" width="3" height="52" fill="#fff"/><rect x="1322" y="401" width="1" height="41" fill="#000"/><rect x="1320" y="404" width="5" height="24" fill="#000"/><rect x="1321" y="405" width="3" height="22" fill="#fff"/><rect x="1330" y="388" width="1" height="20" fill="#000"/><rect x="1328" y="389" width="5" height="17" fill="#000"/><rect x="1329" y="390" width="3" height="15" fill="#fff"/><rect x="1338" y="384" width="1" height="12" fill="#000"/><rect x="1336" y="387" width="5" height="5" fill="#000"/><rect x="1337" y="388" width="3" height="3" fill="#fff"/><rect x="1346" y="379" width="1" height="13" fill="#000"/><rect x="1344" y="380" width="5" height="8" fill="#000"/><rect x="1345" y="381" width="3" height="6" fill="#fff"/><rect x="1354" y="377" width="1" height="42" fill="#000"/><rect x="1352" y="380" width="5" height="28" fill="#000"/><rect x="1362" y="355" width="1" height="59" fill="#000"/><rect x="1360" y="405" width="5" height="3" fill="#000"/><rect x="1361" y="406" width="3" height="1" fill="#fff"/><rect x="1370" y="403" width="1" height="36" fill="#000"/><rect x="1368" y="405" width="5" height="3" fill="#000"/><rect x="1378" y="398" width="1" height="23" fill="#000"/><rect x="1376" y="406" width="5" height="1" fill="#000"/><rect x="1386" y="410" width="1" height="23" fill="#000"/><rect x="1384" y="413" width="5" height="8" fill="#000"/></g><g shape-rendering="crispEdges"><rect x="1300" y="407" width="106" height="10" fill="#00ff00"/><rect x="1467" y="412" width="10" height="2" fill="#ff0000"/><rect x="1477.5" y="401.5" width="73" height="24" fill="#fff" stroke="#ff0000" stroke-width="1"/><rect x="1607" y="353" width="6" height="6" fill="#ff0000"/><rect x="1609" y="355" width="2" height="2" fill="#fff"/><rect x="1607" y="379" width="6" height="6" fill="#ff0000"/><rect x="1609" y="381" width="2" height="2" fill="#fff"/><rect x="1607" y="452" width="6" height="6" fill="#0000ff"/><rect x="1609" y="454" width="2" height="2" fill="#fff"/></g><text x="1426" y="487.5" font-size="32" font-weight="bold" fill="#001400" textLength="161" lengthAdjust="spacingAndGlyphs" style="font-family:'Liberation Serif','Noto Serif CJK SC',serif" transform="translate(1.2,1.2)">多空转折点</text><text x="1426" y="487.5" font-size="32" font-weight="bold" fill="#00ff00" textLength="161" lengthAdjust="spacingAndGlyphs" style="font-family:'Liberation Serif','Noto Serif CJK SC',serif">多空转折点</text><g shape-rendering="crispEdges" clip-path="url(#c2)"><rect x="2" y="684" width="1" height="5" fill="#c0c0c0"/><rect x="10" y="687" width="1" height="2" fill="#c0c0c0"/><rect x="18" y="688" width="1" height="1" fill="#c0c0c0"/><rect x="26" y="686" width="1" height="3" fill="#c0c0c0"/><rect x="34" y="686" width="1" height="3" fill="#c0c0c0"/><rect x="42" y="686" width="1" height="3" fill="#c0c0c0"/><rect x="50" y="684" width="1" height="5" fill="#c0c0c0"/><rect x="58" y="681" width="1" height="8" fill="#c0c0c0"/><rect x="66" y="673" width="1" height="16" fill="#c0c0c0"/><rect x="74" y="668" width="1" height="21" fill="#c0c0c0"/><rect x="82" y="664" width="1" height="25" fill="#c0c0c0"/><rect x="90" y="660" width="1" height="29" fill="#c0c0c0"/><rect x="98" y="658" width="1" height="31" fill="#c0c0c0"/><rect x="106" y="658" width="1" height="31" fill="#c0c0c0"/><rect x="114" y="658" width="1" height="31" fill="#c0c0c0"/><rect x="122" y="658" width="1" height="31" fill="#c0c0c0"/><rect x="130" y="659" width="1" height="30" fill="#c0c0c0"/><rect x="138" y="660" width="1" height="29" fill="#c0c0c0"/><rect x="146" y="661" width="1" height="28" fill="#c0c0c0"/><rect x="154" y="660" width="1" height="29" fill="#c0c0c0"/><rect x="162" y="660" width="1" height="29" fill="#c0c0c0"/><rect x="170" y="661" width="1" height="28" fill="#c0c0c0"/><rect x="178" y="662" width="1" height="27" fill="#c0c0c0"/><rect x="186" y="662" width="1" height="27" fill="#c0c0c0"/><rect x="194" y="664" width="1" height="25" fill="#c0c0c0"/><rect x="202" y="669" width="1" height="20" fill="#c0c0c0"/><rect x="210" y="673" width="1" height="16" fill="#c0c0c0"/><rect x="218" y="676" width="1" height="13" fill="#c0c0c0"/><rect x="226" y="677" width="1" height="12" fill="#c0c0c0"/><rect x="234" y="677" width="1" height="12" fill="#c0c0c0"/><rect x="242" y="677" width="1" height="12" fill="#c0c0c0"/><rect x="250" y="680" width="1" height="9" fill="#c0c0c0"/><rect x="258" y="682" width="1" height="7" fill="#c0c0c0"/><rect x="266" y="683" width="1" height="6" fill="#c0c0c0"/><rect x="274" y="684" width="1" height="5" fill="#c0c0c0"/><rect x="282" y="686" width="1" height="3" fill="#c0c0c0"/><rect x="290" y="681" width="1" height="8" fill="#c0c0c0"/><rect x="298" y="672" width="1" height="17" fill="#c0c0c0"/><rect x="306" y="665" width="1" height="24" fill="#c0c0c0"/><rect x="314" y="659" width="1" height="30" fill="#c0c0c0"/><rect x="322" y="655" width="1" height="34" fill="#c0c0c0"/><rect x="330" y="649" width="1" height="40" fill="#c0c0c0"/><rect x="338" y="646" width="1" height="43" fill="#c0c0c0"/><rect x="346" y="643" width="1" height="46" fill="#c0c0c0"/><rect x="354" y="641" width="1" height="48" fill="#c0c0c0"/><rect x="362" y="641" width="1" height="48" fill="#c0c0c0"/><rect x="370" y="641" width="1" height="48" fill="#c0c0c0"/><rect x="378" y="643" width="1" height="46" fill="#c0c0c0"/><rect x="386" y="647" width="1" height="42" fill="#c0c0c0"/><rect x="394" y="652" width="1" height="37" fill="#c0c0c0"/><rect x="402" y="655" width="1" height="34" fill="#c0c0c0"/><rect x="410" y="657" width="1" height="32" fill="#c0c0c0"/><rect x="418" y="659" width="1" height="30" fill="#c0c0c0"/><rect x="426" y="659" width="1" height="30" fill="#c0c0c0"/><rect x="434" y="660" width="1" height="29" fill="#c0c0c0"/><rect x="442" y="661" width="1" height="28" fill="#c0c0c0"/><rect x="450" y="663" width="1" height="26" fill="#c0c0c0"/><rect x="458" y="665" width="1" height="24" fill="#c0c0c0"/><rect x="466" y="666" width="1" height="23" fill="#c0c0c0"/><rect x="474" y="668" width="1" height="21" fill="#c0c0c0"/><rect x="482" y="667" width="1" height="22" fill="#c0c0c0"/><rect x="490" y="666" width="1" height="23" fill="#c0c0c0"/><rect x="498" y="664" width="1" height="25" fill="#c0c0c0"/><rect x="506" y="666" width="1" height="23" fill="#c0c0c0"/><rect x="514" y="669" width="1" height="20" fill="#c0c0c0"/><rect x="522" y="673" width="1" height="16" fill="#c0c0c0"/><rect x="530" y="673" width="1" height="16" fill="#c0c0c0"/><rect x="538" y="672" width="1" height="17" fill="#c0c0c0"/><rect x="546" y="671" width="1" height="18" fill="#c0c0c0"/><rect x="554" y="670" width="1" height="19" fill="#c0c0c0"/><rect x="562" y="667" width="1" height="22" fill="#c0c0c0"/><rect x="570" y="665" width="1" height="24" fill="#c0c0c0"/><rect x="578" y="667" width="1" height="22" fill="#c0c0c0"/><rect x="586" y="667" width="1" height="22" fill="#c0c0c0"/><rect x="594" y="666" width="1" height="23" fill="#c0c0c0"/><rect x="602" y="638" width="1" height="51" fill="#c0c0c0"/><rect x="610" y="614" width="1" height="75" fill="#c0c0c0"/><rect x="618" y="601" width="1" height="88" fill="#c0c0c0"/><rect x="626" y="593" width="1" height="96" fill="#c0c0c0"/><rect x="634" y="596" width="1" height="93" fill="#c0c0c0"/><rect x="642" y="599" width="1" height="90" fill="#c0c0c0"/><rect x="650" y="600" width="1" height="89" fill="#c0c0c0"/><rect x="658" y="600" width="1" height="89" fill="#c0c0c0"/><rect x="666" y="600" width="1" height="89" fill="#c0c0c0"/><rect x="674" y="602" width="1" height="87" fill="#c0c0c0"/><rect x="682" y="606" width="1" height="83" fill="#c0c0c0"/><rect x="690" y="609" width="1" height="80" fill="#c0c0c0"/><rect x="698" y="620" width="1" height="69" fill="#c0c0c0"/><rect x="706" y="626" width="1" height="63" fill="#c0c0c0"/><rect x="714" y="635" width="1" height="54" fill="#c0c0c0"/><rect x="722" y="647" width="1" height="42" fill="#c0c0c0"/><rect x="730" y="662" width="1" height="27" fill="#c0c0c0"/><rect x="738" y="677" width="1" height="12" fill="#c0c0c0"/><rect x="746" y="687" width="1" height="2" fill="#c0c0c0"/><rect x="754" y="688" width="1" height="10" fill="#c0c0c0"/><rect x="762" y="688" width="1" height="19" fill="#c0c0c0"/><rect x="770" y="688" width="1" height="26" fill="#c0c0c0"/><rect x="778" y="688" width="1" height="31" fill="#c0c0c0"/><rect x="786" y="688" width="1" height="34" fill="#c0c0c0"/><rect x="794" y="688" width="1" height="37" fill="#c0c0c0"/><rect x="802" y="688" width="1" height="38" fill="#c0c0c0"/><rect x="810" y="688" width="1" height="36" fill="#c0c0c0"/><rect x="818" y="688" width="1" height="39" fill="#c0c0c0"/><rect x="826" y="688" width="1" height="46" fill="#c0c0c0"/><rect x="834" y="688" width="1" height="52" fill="#c0c0c0"/><rect x="842" y="688" width="1" height="55" fill="#c0c0c0"/><rect x="850" y="688" width="1" height="56" fill="#c0c0c0"/><rect x="858" y="688" width="1" height="57" fill="#c0c0c0"/><rect x="866" y="688" width="1" height="57" fill="#c0c0c0"/><rect x="874" y="688" width="1" height="53" fill="#c0c0c0"/><rect x="882" y="688" width="1" height="52" fill="#c0c0c0"/><rect x="890" y="688" width="1" height="51" fill="#c0c0c0"/><rect x="898" y="688" width="1" height="49" fill="#c0c0c0"/><rect x="906" y="688" width="1" height="48" fill="#c0c0c0"/><rect x="914" y="688" width="1" height="49" fill="#c0c0c0"/><rect x="922" y="688" width="1" height="54" fill="#c0c0c0"/><rect x="930" y="688" width="1" height="57" fill="#c0c0c0"/><rect x="938" y="688" width="1" height="57" fill="#c0c0c0"/><rect x="946" y="688" width="1" height="57" fill="#c0c0c0"/><rect x="954" y="688" width="1" height="58" fill="#c0c0c0"/><rect x="962" y="688" width="1" height="56" fill="#c0c0c0"/><rect x="970" y="688" width="1" height="54" fill="#c0c0c0"/><rect x="978" y="688" width="1" height="51" fill="#c0c0c0"/><rect x="986" y="688" width="1" height="51" fill="#c0c0c0"/><rect x="994" y="688" width="1" height="46" fill="#c0c0c0"/><rect x="1002" y="688" width="1" height="39" fill="#c0c0c0"/><rect x="1010" y="688" width="1" height="33" fill="#c0c0c0"/><rect x="1018" y="688" width="1" height="30" fill="#c0c0c0"/><rect x="1026" y="688" width="1" height="23" fill="#c0c0c0"/><rect x="1034" y="688" width="1" height="17" fill="#c0c0c0"/><rect x="1042" y="688" width="1" height="13" fill="#c0c0c0"/><rect x="1050" y="688" width="1" height="11" fill="#c0c0c0"/><rect x="1058" y="688" width="1" height="5" fill="#c0c0c0"/><rect x="1066" y="686" width="1" height="3" fill="#c0c0c0"/><rect x="1074" y="678" width="1" height="11" fill="#c0c0c0"/><rect x="1082" y="674" width="1" height="15" fill="#c0c0c0"/><rect x="1090" y="671" width="1" height="18" fill="#c0c0c0"/><rect x="1098" y="670" width="1" height="19" fill="#c0c0c0"/><rect x="1106" y="668" width="1" height="21" fill="#c0c0c0"/><rect x="1114" y="668" width="1" height="21" fill="#c0c0c0"/><rect x="1122" y="669" width="1" height="20" fill="#c0c0c0"/><rect x="1130" y="672" width="1" height="17" fill="#c0c0c0"/><rect x="1138" y="675" width="1" height="14" fill="#c0c0c0"/><rect x="1146" y="678" width="1" height="11" fill="#c0c0c0"/><rect x="1154" y="679" width="1" height="10" fill="#c0c0c0"/><rect x="1162" y="676" width="1" height="13" fill="#c0c0c0"/><rect x="1170" y="670" width="1" height="19" fill="#c0c0c0"/><rect x="1178" y="666" width="1" height="23" fill="#c0c0c0"/><rect x="1186" y="662" width="1" height="27" fill="#c0c0c0"/><rect x="1194" y="658" width="1" height="31" fill="#c0c0c0"/><rect x="1202" y="660" width="1" height="29" fill="#c0c0c0"/><rect x="1210" y="659" width="1" height="30" fill="#c0c0c0"/><rect x="1218" y="661" width="1" height="28" fill="#c0c0c0"/><rect x="1226" y="668" width="1" height="21" fill="#c0c0c0"/><rect x="1234" y="676" width="1" height="13" fill="#c0c0c0"/><rect x="1242" y="682" width="1" height="7" fill="#c0c0c0"/><rect x="1250" y="688" width="1" height="1" fill="#c0c0c0"/><rect x="1258" y="688" width="1" height="15" fill="#c0c0c0"/><rect x="1266" y="688" width="1" height="26" fill="#c0c0c0"/><rect x="1274" y="688" width="1" height="33" fill="#c0c0c0"/><rect x="1282" y="688" width="1" height="39" fill="#c0c0c0"/><rect x="1290" y="688" width="1" height="43" fill="#c0c0c0"/><rect x="1298" y="688" width="1" height="44" fill="#c0c0c0"/><rect x="1306" y="688" width="1" height="45" fill="#c0c0c0"/><rect x="1314" y="688" width="1" height="39" fill="#c0c0c0"/><rect x="1322" y="688" width="1" height="32" fill="#c0c0c0"/><rect x="1330" y="688" width="1" height="23" fill="#c0c0c0"/><rect x="1338" y="688" width="1" height="17" fill="#c0c0c0"/><rect x="1346" y="688" width="1" height="10" fill="#c0c0c0"/><rect x="1354" y="688" width="1" height="8" fill="#c0c0c0"/><rect x="1362" y="688" width="1" height="6" fill="#c0c0c0"/><rect x="1370" y="688" width="1" height="6" fill="#c0c0c0"/><rect x="1378" y="688" width="1" height="5" fill="#c0c0c0"/><rect x="1386" y="688" width="1" height="5" fill="#c0c0c0"/></g><polyline points="-6,692 0,691.6 7.6,689.5 15.2,687.8 25.3,686.3 35.4,685.7 50.6,685 63.3,684 73.4,681.2 83.5,678.2 91.1,676.4 101.2,671.1 108.8,668.8 121.5,663 131.6,660.4 144.2,658.7 156.9,658.4 172.1,658.4 182.2,659.4 194.8,660.4 210,662.2 220.1,664.2 232.8,668 242.9,670.6 253,673.1 265.7,676.4 278.3,678.7 291,679.9 301.1,679.2 311.2,676.4 321.4,674.4 331.5,669.3 344.1,663 354.3,655.9 364.4,650.3 377,645.3 387.1,644.2 402.3,644.2 402.5,644.2 415.2,646.5 430.4,649.8 445.5,655.4 460.7,658.7 475.9,661.7 491.1,663.5 506.3,664.2 521.5,666.3 536.6,668 551.8,668.5 567,668.8 582.2,669.6 592.3,668.8 599.9,665.5 607.5,660.4 615.1,652.9 622.7,645.3 632.8,633.9 642.9,626.3 653,616.2 663.2,607.3 673.3,601.7 683.4,599.7 691,600.5 701.1,604.3 711.2,608.6 726.4,618.7 736.5,628.8 746.7,640.2 754.3,650.3 764.4,663 774.5,675.6 779.6,683.2 787.1,692.1 797.3,702.2 802.3,706.5 801.3,706.5 810.1,712.3 820.2,718.6 830.4,723.2 840.5,727.5 850.6,731.8 863.3,734.6 875.9,737.6 888.6,740.7 901.2,740.9 913.9,740.4 926.5,739.6 939.2,739.9 951.8,741.4 964.5,741.9 977.1,742.4 989.8,742.2 999.9,740.4 1010,736.4 1022.7,731.8 1032.8,726.2 1042.9,720.7 1053,714.8 1063.2,709 1073.3,700.9 1083.4,695.1 1093.5,688.3 1103.6,683.2 1113.8,678.2 1123.9,673.6 1134,672.3 1149.2,671.6 1164.4,672.3 1179.6,671.6 1194.7,670.6 1202.3,668 1202.5,668.5 1210.1,666.3 1220.2,665 1230.4,663.5 1238,663.7 1245.5,666.3 1253.1,668.8 1260.7,674.4 1270.9,681.2 1281,690.8 1291.1,700.9 1301.2,709.8 1311.3,717.9 1321.5,721.9 1331.6,723.2 1341.7,721.2 1351.8,716.6 1361.9,712.3 1372.1,707.3 1382.2,702.2 1386.5,700.4" fill="none" stroke="#ff0000" stroke-width="1" clip-path="url(#c2)" shape-rendering="crispEdges" stroke-dasharray="3 3"/><g shape-rendering="crispEdges"><line x1="0" x2="1613" y1="791.5" y2="791.5" stroke="#c0c0c0" stroke-width="1" stroke-dasharray="3 3"/><line x1="0" x2="1613" y1="842.5" y2="842.5" stroke="#c0c0c0" stroke-width="1" stroke-dasharray="3 3"/><line x1="0" x2="1613" y1="903.5" y2="903.5" stroke="#c0c0c0" stroke-width="1" stroke-dasharray="3 3"/></g><polyline points="-5.5,836 2.5,840.8 10.5,850.2 18.5,839.5 26.5,839.3 34.5,841.3 42.5,846.4 50.5,827.9 58.5,821.8 66.5,807.9 74.5,812.7 82.5,811.4 90.5,807.9 98.5,818 106.5,821.6 114.5,820.5 122.5,819.3 130.5,820.3 138.5,818 146.5,824.3 154.5,815 162.5,817 170.5,826.6 178.5,819.3 186.5,823.1 194.5,826.9 202.5,849.6 210.5,846.6 218.5,845.1 226.5,837 234.5,831.2 242.5,831.9 250.5,848.4 258.5,847.1 266.5,840.3 274.5,844.3 282.5,850.2 290.5,820.3 298.5,807.1 306.5,806.1 314.5,807.4 322.5,805.4 330.5,800.3 338.5,801.3 346.5,801.3 354.5,800.3 362.5,803.3 370.5,804.6 378.5,807.9 386.5,827.4 394.5,835.5 402.5,828.6 410.5,825.4 418.5,826.6 426.5,818.5 434.5,824.3 442.5,824.3 450.5,827.4 458.5,830.4 466.5,826.6 474.5,832.4 482.5,820.5 490.5,816.8 498.5,807.6 506.5,839.5 514.5,837 522.5,845.6 530.5,835.5 538.5,827.9 546.5,826.6 554.5,826.6 562.5,820.5 570.5,818.3 578.5,834.5 586.5,829.4 594.5,822.8 602.5,784.4 610.5,783.4 618.5,797.5 626.5,803.3 634.5,821.6 642.5,821.6 650.5,818 658.5,814.2 666.5,814.2 674.5,817.3 682.5,821.1 690.5,819.3 698.5,837 706.5,833.5 714.5,840 722.5,850.2 730.5,860.3 738.5,863.3 746.5,861.5 754.5,865.3 762.5,867.4 770.5,863.6 778.5,865.3 786.5,862.3 794.5,863.6 802.5,862.3 810.5,854.5 818.5,865.3 826.5,874.2 834.5,876.5 842.5,871.7 850.5,871.4 858.5,872.4 866.5,870.4 874.5,858.5 882.5,864.1 890.5,865.3 898.5,866.3 906.5,864.3 914.5,870.9 922.5,881.3 930.5,876.7 938.5,874.4 946.5,873.4 954.5,877.5 962.5,868.6 970.5,865.3 978.5,866.6 986.5,872.2 994.5,854 1002.5,843.8 1010.5,842.6 1018.5,849.4 1026.5,836.2 1034.5,834.5 1042.5,838.3 1050.5,841.6 1058.5,829.4 1066.5,821.3 1074.5,816.2 1082.5,824.3 1090.5,824.3 1098.5,826.4 1106.5,826.4 1114.5,825.4 1122.5,836.7 1130.5,843.1 1138.5,842.3 1146.5,845.3 1154.5,842.3 1162.5,822.8 1170.5,813.5 1178.5,815.2 1186.5,813.5 1194.5,811.4 1202.5,827.9 1210.5,824.1 1218.5,830.7 1226.5,851.4 1234.5,858.3 1242.5,853.4 1250.5,864.1 1258.5,876.2 1266.5,878.5 1274.5,874.4 1282.5,873.2 1290.5,874.4 1298.5,868.4 1306.5,869.4 1314.5,844.1 1322.5,837 1330.5,833.2 1338.5,831.9 1346.5,829.9 1354.5,844.1 1362.5,840.3 1370.5,840.3 1378.5,843.1 1386.5,846.6" fill="none" stroke="#1e90ff" stroke-width="1" clip-path="url(#c3)" shape-rendering="crispEdges" /><g shape-rendering="crispEdges"><rect x="0" y="28" width="1614" height="1" fill="#000"/><rect x="0" y="581" width="1614" height="1" fill="#000"/><rect x="0" y="583" width="1614" height="1" fill="#000"/><rect x="0" y="753" width="1614" height="1" fill="#000"/><rect x="0" y="755" width="1614" height="1" fill="#000"/><rect x="0" y="929" width="1614" height="1" fill="#000"/><rect x="1613" y="28" width="1" height="554" fill="#000"/><rect x="1613" y="583" width="1" height="171" fill="#000"/><rect x="1613" y="755" width="1" height="175" fill="#000"/><polygon points="1396,29 1407,29 1401.5,34.5" fill="#b4b4b4"/><rect x="1614" y="50" width="2" height="1" fill="#000"/><rect x="1614" y="83" width="2" height="1" fill="#000"/><rect x="1614" y="116" width="2" height="1" fill="#000"/><rect x="1614" y="149" width="2" height="1" fill="#000"/><rect x="1614" y="182" width="2" height="1" fill="#000"/><rect x="1614" y="215" width="2" height="1" fill="#000"/><rect x="1614" y="248" width="2" height="1" fill="#000"/><rect x="1614" y="281" width="2" height="1" fill="#000"/><rect x="1614" y="314" width="2" height="1" fill="#000"/><rect x="1614" y="347" width="2" height="1" fill="#000"/><rect x="1614" y="380" width="2" height="1" fill="#000"/><rect x="1614" y="413" width="2" height="1" fill="#000"/><rect x="1614" y="446" width="2" height="1" fill="#000"/><rect x="1614" y="479" width="2" height="1" fill="#000"/><rect x="1614" y="512" width="2" height="1" fill="#000"/><rect x="1614" y="545" width="2" height="1" fill="#000"/><rect x="1614" y="578" width="2" height="1" fill="#000"/><rect x="1614" y="688" width="2" height="1" fill="#000"/><rect x="1614" y="584" width="2" height="1" fill="#000"/><rect x="1614" y="752" width="2" height="1" fill="#000"/><rect x="1614" y="756" width="2" height="1" fill="#000"/><rect x="1614" y="928" width="2" height="1" fill="#000"/><rect x="58" y="930" width="1" height="3" fill="#000"/><rect x="122" y="930" width="1" height="3" fill="#000"/><rect x="186" y="930" width="1" height="3" fill="#000"/><rect x="250" y="930" width="1" height="3" fill="#000"/><rect x="314" y="930" width="1" height="3" fill="#000"/><rect x="378" y="930" width="1" height="3" fill="#000"/><rect x="442" y="930" width="1" height="3" fill="#000"/><rect x="506" y="930" width="1" height="3" fill="#000"/><rect x="570" y="930" width="1" height="3" fill="#000"/><rect x="634" y="930" width="1" height="3" fill="#000"/><rect x="698" y="930" width="1" height="3" fill="#000"/><rect x="762" y="930" width="1" height="3" fill="#000"/><rect x="826" y="930" width="1" height="3" fill="#000"/><rect x="890" y="930" width="1" height="3" fill="#000"/><rect x="954" y="930" width="1" height="3" fill="#000"/><rect x="1018" y="930" width="1" height="3" fill="#000"/><rect x="1082" y="930" width="1" height="3" fill="#000"/><rect x="1146" y="930" width="1" height="3" fill="#000"/><rect x="1210" y="930" width="1" height="3" fill="#000"/><rect x="1274" y="930" width="1" height="3" fill="#000"/><rect x="1338" y="930" width="1" height="3" fill="#000"/><rect x="1615" y="415" width="41" height="11" fill="#000"/><rect x="1615" y="350" width="41" height="11" fill="#ff0000"/><rect x="1615" y="376" width="41" height="11" fill="#ff0000"/><rect x="1615" y="407" width="41" height="11" fill="#32cd32"/><rect x="1615" y="449" width="41" height="11" fill="#0000ff"/><rect x="1615" y="481" width="41" height="11" fill="#0000ff"/></g>
<g><text x="1620" y="424" font-size="9" fill="#fff">142.262</text><rect x="1615" y="407" width="41" height="11" fill="#32cd32" shape-rendering="crispEdges"/><text x="1514.5" y="421.5" font-size="22" fill="#ff0000" text-anchor="middle" textLength="68" lengthAdjust="spacingAndGlyphs">142.381</text><text x="1619" y="359" font-size="10.2" fill="#fff" textLength="33" lengthAdjust="spacingAndGlyphs">143.263</text><text x="1619" y="385" font-size="10.2" fill="#fff" textLength="33" lengthAdjust="spacingAndGlyphs">142.860</text><text x="1619" y="416" font-size="10.2" fill="#fff" textLength="33" lengthAdjust="spacingAndGlyphs">142.381</text><text x="1619" y="458" font-size="10.2" fill="#fff" textLength="33" lengthAdjust="spacingAndGlyphs">141.726</text><text x="1619" y="490" font-size="10.2" fill="#fff" textLength="33" lengthAdjust="spacingAndGlyphs">141.218</text></g>
<defs><linearGradient id="r1" x1="0" y1="0" x2="0" y2="1"><stop offset="0" stop-color="#f45252"/><stop offset="1" stop-color="#dc3434"/></linearGradient><linearGradient id="r2" x1="0" y1="0" x2="0" y2="1"><stop offset="0" stop-color="#d82c2c"/><stop offset="1" stop-color="#b00006"/></linearGradient><linearGradient id="r2u" gradientUnits="userSpaceOnUse" x1="0" y1="73" x2="0" y2="112"><stop offset="0" stop-color="#d82c2c"/><stop offset="1" stop-color="#b00006"/></linearGradient><linearGradient id="sb" x1="0" y1="0" x2="0" y2="1"><stop offset="0" stop-color="#f4f4f4"/><stop offset="0.5" stop-color="#e4e4e4"/><stop offset="0.5" stop-color="#d4d4d4"/><stop offset="1" stop-color="#dcdcdc"/></linearGradient></defs><g shape-rendering="crispEdges"><rect x="0" y="48" width="216" height="64" fill="#fff"/><rect x="0" y="48" width="48" height="25" fill="url(#r1)"/><rect x="164" y="48" width="52" height="25" fill="url(#r1)"/><rect x="0" y="73" width="106" height="39" fill="url(#r2)"/><rect x="108" y="73" width="108" height="39" fill="url(#r2)"/><rect x="1" y="72" width="44" height="1" fill="#f49090"/><rect x="168" y="72" width="44" height="1" fill="#f49090"/><rect x="0" y="48" width="48" height="1" fill="#d83030"/><rect x="164" y="48" width="52" height="1" fill="#d83030"/><rect x="215" y="48" width="1" height="64" fill="#c02020"/><rect x="51" y="49" width="111" height="21" fill="#fff" stroke="#a8a8b0" stroke-width="1"/><rect x="52" y="50" width="20" height="19" fill="url(#sb)"/><rect x="141" y="50" width="20" height="19" fill="url(#sb)"/><rect x="72" y="50" width="1" height="19" fill="#b8b8c0"/><rect x="140" y="50" width="1" height="19" fill="#b8b8c0"/></g><polygon points="59.3,57 64.3,57 61.8,60" fill="#4060c0"/><polygon points="148.3,60 153.3,60 150.8,57" fill="#4060c0"/><text x="9" y="63.4" font-size="13" fill="#fff" textLength="25.5" lengthAdjust="spacingAndGlyphs">SELL</text><text x="177" y="63.4" font-size="13" fill="#fff" textLength="23.5" lengthAdjust="spacingAndGlyphs">BUY</text><text x="137.5" y="63" font-size="13" fill="#000" text-anchor="end" textLength="24" lengthAdjust="spacingAndGlyphs">1.00</text><text x="20" y="103" font-size="10.5" font-weight="bold" fill="#fff" textLength="21" lengthAdjust="spacingAndGlyphs">142</text><text x="131" y="103" font-size="10.5" font-weight="bold" fill="#fff" textLength="19.5" lengthAdjust="spacingAndGlyphs">142</text><text x="45" y="103" font-size="32.5" fill="#fff" stroke="url(#r2u)" stroke-width="1" textLength="34" lengthAdjust="spacingAndGlyphs">26</text><text x="156" y="103" font-size="32.5" fill="#fff" stroke="url(#r2u)" stroke-width="1" textLength="33.5" lengthAdjust="spacingAndGlyphs">35</text><text x="84.3" y="87.2" font-size="11" font-weight="bold" fill="#fff">2</text><text x="194.6" y="87.2" font-size="11" font-weight="bold" fill="#fff">0</text><polygon points="0,39.8 0,34.4 5.4,39.8" fill="#000"/>
<g shape-rendering="crispEdges"><rect x="0" y="0" width="1660" height="24" fill="#f0f0f0"/><rect x="0" y="23" width="1660" height="1" fill="#d6d6d6"/><rect x="0" y="24" width="1660" height="1" fill="#9c9c9c"/><rect x="0" y="25" width="1660" height="1" fill="#696969"/><rect x="1658" y="26" width="1" height="923" fill="#fafafa"/><rect x="1659" y="26" width="1" height="923" fill="#f0f0f0"/></g><g shape-rendering="crispEdges"><rect x="248" y="0" width="25" height="22" fill="#f9f9f9"/><rect x="248" y="0" width="25" height="1" fill="#d0d0d0"/><rect x="248" y="0" width="1" height="22" fill="#c8c8c8"/><rect x="272" y="0" width="1" height="22" fill="#ffffff"/></g><g shape-rendering="crispEdges"><rect x="400" y="0" width="25" height="22" fill="#f9f9f9"/><rect x="400" y="0" width="25" height="1" fill="#d0d0d0"/><rect x="400" y="0" width="1" height="22" fill="#c8c8c8"/><rect x="424" y="0" width="1" height="22" fill="#ffffff"/></g><g shape-rendering="crispEdges"><rect x="428" y="0" width="25" height="22" fill="#f9f9f9"/><rect x="428" y="0" width="25" height="1" fill="#d0d0d0"/><rect x="428" y="0" width="1" height="22" fill="#c8c8c8"/><rect x="452" y="0" width="1" height="22" fill="#ffffff"/></g><g shape-rendering="crispEdges"><rect x="588" y="0" width="25" height="22" fill="#f9f9f9"/><rect x="588" y="0" width="25" height="1" fill="#d0d0d0"/><rect x="588" y="0" width="1" height="22" fill="#c8c8c8"/><rect x="612" y="0" width="1" height="22" fill="#ffffff"/></g><g shape-rendering="crispEdges"><rect x="1034" y="0" width="25" height="22" fill="#f9f9f9"/><rect x="1034" y="0" width="25" height="1" fill="#d0d0d0"/><rect x="1034" y="0" width="1" height="22" fill="#c8c8c8"/><rect x="1058" y="0" width="1" height="22" fill="#ffffff"/></g><rect x="210" y="0" width="1" height="24" fill="#a0a0a0" shape-rendering="crispEdges"/><rect x="884" y="0" width="1" height="24" fill="#a0a0a0" shape-rendering="crispEdges"/><rect x="305" y="1" width="1" height="21" fill="#a0a0a0" shape-rendering="crispEdges"/><rect x="395" y="1" width="1" height="21" fill="#a0a0a0" shape-rendering="crispEdges"/><rect x="457" y="1" width="1" height="21" fill="#a0a0a0" shape-rendering="crispEdges"/><rect x="578" y="1" width="1" height="21" fill="#a0a0a0" shape-rendering="crispEdges"/><rect x="645" y="1" width="1" height="21" fill="#a0a0a0" shape-rendering="crispEdges"/><rect x="1145" y="1" width="1" height="21" fill="#a0a0a0" shape-rendering="crispEdges"/><g shape-rendering="crispEdges"><rect x="214" y="2" width="3" height="1" fill="#b0b0b0"/><rect x="214" y="4" width="3" height="1" fill="#b0b0b0"/><rect x="214" y="6" width="3" height="1" fill="#b0b0b0"/><rect x="214" y="8" width="3" height="1" fill="#b0b0b0"/><rect x="214" y="10" width="3" height="1" fill="#b0b0b0"/><rect x="214" y="12" width="3" height="1" fill="#b0b0b0"/><rect x="214" y="14" width="3" height="1" fill="#b0b0b0"/><rect x="214" y="16" width="3" height="1" fill="#b0b0b0"/><rect x="214" y="18" width="3" height="1" fill="#b0b0b0"/><rect x="214" y="20" width="3" height="1" fill="#b0b0b0"/></g><g shape-rendering="crispEdges"><rect x="582" y="2" width="3" height="1" fill="#b0b0b0"/><rect x="582" y="4" width="3" height="1" fill="#b0b0b0"/><rect x="582" y="6" width="3" height="1" fill="#b0b0b0"/><rect x="582" y="8" width="3" height="1" fill="#b0b0b0"/><rect x="582" y="10" width="3" height="1" fill="#b0b0b0"/><rect x="582" y="12" width="3" height="1" fill="#b0b0b0"/><rect x="582" y="14" width="3" height="1" fill="#b0b0b0"/><rect x="582" y="16" width="3" height="1" fill="#b0b0b0"/><rect x="582" y="18" width="3" height="1" fill="#b0b0b0"/><rect x="582" y="20" width="3" height="1" fill="#b0b0b0"/></g><g shape-rendering="crispEdges"><rect x="888" y="2" width="3" height="1" fill="#b0b0b0"/><rect x="888" y="4" width="3" height="1" fill="#b0b0b0"/><rect x="888" y="6" width="3" height="1" fill="#b0b0b0"/><rect x="888" y="8" width="3" height="1" fill="#b0b0b0"/><rect x="888" y="10" width="3" height="1" fill="#b0b0b0"/><rect x="888" y="12" width="3" height="1" fill="#b0b0b0"/><rect x="888" y="14" width="3" height="1" fill="#b0b0b0"/><rect x="888" y="16" width="3" height="1" fill="#b0b0b0"/><rect x="888" y="18" width="3" height="1" fill="#b0b0b0"/><rect x="888" y="20" width="3" height="1" fill="#b0b0b0"/></g><text x="3" y="15.2" font-size="11.7" fill="#111" stroke="#111" stroke-width="0.25" textLength="35" lengthAdjust="spacingAndGlyphs" style="font-family:'Liberation Sans','Noto Sans CJK SC',sans-serif">新订单</text><text x="157" y="15.2" font-size="11.3" fill="#111" stroke="#111" stroke-width="0.25" textLength="44.5" lengthAdjust="spacingAndGlyphs" style="font-family:'Liberation Sans','Noto Sans CJK SC',sans-serif">自动交易</text><defs><linearGradient id="gd" x1="0" y1="0" x2="1" y2="1"><stop offset="0" stop-color="#ffe680"/><stop offset="1" stop-color="#d89a10"/></linearGradient><linearGradient id="bl" x1="0" y1="0" x2="0" y2="1"><stop offset="0" stop-color="#7ec0f8"/><stop offset="1" stop-color="#1c6fd8"/></linearGradient><radialGradient id="lens" cx="0.4" cy="0.35" r="0.7"><stop offset="0" stop-color="#e8f4ff"/><stop offset="1" stop-color="#8cc4f0"/></radialGradient></defs><polygon points="56.6,5 67,12.7 59.3,20 51,14.2" fill="#a8700e"/><polygon points="56.9,5.7 65.7,11.6 58.7,18 51.9,13.8" fill="url(#gd)"/><path d="M52.3 15.2L59.2 19L66.4 12.9" fill="none" stroke="#f4d878" stroke-width="0.7"/><path d="M54.5 12.5L58.2 8.6" fill="none" stroke="#fff6c0" stroke-width="1.4" opacity="0.7"/><polygon points="81.3,4.6 83.8,5.7 83.8,12.8 81.3,11.4" fill="#52b4ff"/><polygon points="81.3,4.6 84.5,4.1 92.2,4.8 92.2,5.9 83.8,5.7" fill="#b8e2ff"/><rect x="83.8" y="5.7" width="8.4" height="8.5" fill="#1e8cf4"/><rect x="86" y="8.4" width="4.8" height="1.1" fill="#d8efff"/><rect x="86" y="10.6" width="4" height="0.9" fill="#bfe2ff"/><path d="M81.6 19.6a2.7 2.7 0 0 1 .2-5.3a3.5 3.5 0 0 1 6.2-1.5a3.1 3.1 0 0 1 4.5 2.1a2.4 2.4 0 0 1 -.3 4.7z" fill="#e9eff8" stroke="#5676b4" stroke-width="0.9"/><path d="M82.2 15.6a2.6 2.6 0 0 1 5-2.2a3 3 0 0 1 4.6 1.6" fill="none" stroke="#ffffff" stroke-width="0.8"/><path d="M114.9 11.8L121.8 8.6A7.6 7.6 0 0 1 115.4 19.4z" fill="#8cc88c" opacity="0.75"/><g fill="none" stroke-linecap="round"><circle cx="114.9" cy="11.8" r="7.6" stroke="#aac0e4" stroke-width="0.9"/><path d="M114.9 6.1a5.7 5.7 0 0 0 0 11.4" stroke="#4a78d8" stroke-width="1"/><path d="M114.9 8a3.8 3.8 0 0 0 0 7.6" stroke="#3a68d0" stroke-width="1"/><path d="M114.9 6.1a5.7 5.7 0 0 1 5.4 3.6M114.9 8a3.8 3.8 0 0 1 3.5 2.2" stroke="#88a8dc" stroke-width="0.9"/><path d="M115.4 19.4a7.6 7.6 0 0 0 7-9" stroke="#58b058" stroke-width="1"/><line x1="115.3" y1="12" x2="115.3" y2="19.6" stroke="#22a022" stroke-width="1.3"/></g><circle cx="114.8" cy="11.6" r="1.5" fill="#2452cc"/><path d="M134.8 11.2c1.6 4.4 4 8.4 6.4 8.6c2.6 0 6-4.4 8-8.6z" fill="#f6cc3a" stroke="#c89a18" stroke-width="0.6"/><path d="M136 11.4l5.4 4.2l-5-2z" fill="#fff0a0" opacity="0.7"/><ellipse cx="142" cy="9.2" rx="7.9" ry="2.5" fill="#3e8ed4"/><path d="M137.6 8.8c0-5.6 8.8-5.6 8.8 0c-2 1.2-6.8 1.2-8.8 0z" fill="#6cb4ea"/><circle cx="146.3" cy="15.9" r="4" fill="#d41c14"/><rect x="144.7" y="14.3" width="3.2" height="3.2" fill="#fff"/><g stroke="#454545" stroke-width="1.1" fill="none"><path d="M228.5 20V6.5M226 17.5H239.5"/><path d="M227 8.8L228.5 6L230 8.8M237.3 16L240 17.5L237.3 19" stroke-width="0.9"/></g><path d="M231.5 15.2h2.5v-7.2h2.5" fill="none" stroke="#2a962a" stroke-width="1.4"/><g stroke="#454545" stroke-width="1.1" fill="none"><path d="M256.5 20V6.5M254 17.5H267.5"/><path d="M255 8.8L256.5 6L258 8.8M265.3 16L268 17.5L265.3 19" stroke-width="0.9"/></g><line x1="262.5" y1="4.5" x2="262.5" y2="15.5" stroke="#1a7a1a" stroke-width="1"/><rect x="260.6" y="6.2" width="3.8" height="7.4" fill="#2cd02c" stroke="#1a8a1a" stroke-width="0.7"/><g stroke="#454545" stroke-width="1.1" fill="none"><path d="M284.5 20V6.5M282 17.5H295.5"/><path d="M283 8.8L284.5 6L286 8.8M293.3 16L296 17.5L293.3 19" stroke-width="0.9"/></g><path d="M284 14.5c2-3 4-5.5 6-5.5s3.5 2.5 5.2 4.2" fill="none" stroke="#2a962a" stroke-width="1.3"/><g stroke="#454545" stroke-width="1.1" fill="none"><path d="M408.5 20V6.5M406 17.5H419.5"/><path d="M407 8.8L408.5 6L410 8.8M417.3 16L420 17.5L417.3 19" stroke-width="0.9"/></g><polygon points="413,8.2 417.2,11.5 413,14.8" fill="#b8f0b0" stroke="#2aa02a" stroke-width="1"/><g stroke="#454545" stroke-width="1.1" fill="none"><path d="M436.5 20V6.5M434 17.5H447.5"/><path d="M435 8.8L436.5 6L438 8.8M445.3 16L448 17.5L445.3 19" stroke-width="0.9"/></g><line x1="442.5" y1="6" x2="442.5" y2="16" stroke="#2060c0" stroke-width="1.1"/><path d="M447.5 11.5h-4M446 9.5l-2.5 2l2.5 2" fill="none" stroke="#e04010" stroke-width="1.1"/><line x1="323" y1="12.5" x2="328.2" y2="18.8" stroke="#b89028" stroke-width="2.6" stroke-linecap="round"/><line x1="323.4" y1="12.6" x2="328" y2="18.2" stroke="#f0d058" stroke-width="1.2" stroke-linecap="round"/><circle cx="320" cy="9.6" r="5.2" fill="url(#lens)" stroke="#5a94d0" stroke-width="1.2"/><path d="M317.2 9.6h5.6M320 6.8v5.6" stroke="#2a62b8" stroke-width="1.5" fill="none"/><line x1="351" y1="12.5" x2="356.2" y2="18.8" stroke="#b89028" stroke-width="2.6" stroke-linecap="round"/><line x1="351.4" y1="12.6" x2="356" y2="18.2" stroke="#f0d058" stroke-width="1.2" stroke-linecap="round"/><circle cx="348" cy="9.6" r="5.2" fill="url(#lens)" stroke="#5a94d0" stroke-width="1.2"/><path d="M345.2 9.6h5.6" stroke="#2a62b8" stroke-width="1.5" fill="none"/><rect x="370.3" y="4.3" width="7.6" height="7.6" fill="#4aa828"/><rect x="370.3" y="4.3" width="7.6" height="2" fill="#2e8a18"/><rect x="371.7" y="7.699999999999999" width="4.8" height="3" fill="#fff" opacity="0.92"/><rect x="372.6" y="8.899999999999999" width="3" height="0.9" fill="#4aa828"/><rect x="378.3" y="4.3" width="7.6" height="7.6" fill="#2a5ad8"/><rect x="378.3" y="4.3" width="7.6" height="2" fill="#1840b8"/><rect x="379.7" y="7.699999999999999" width="4.8" height="3" fill="#fff" opacity="0.92"/><rect x="380.6" y="8.899999999999999" width="3" height="0.9" fill="#2a5ad8"/><rect x="370.3" y="12.3" width="7.6" height="7.6" fill="#2a5ad8"/><rect x="370.3" y="12.3" width="7.6" height="2" fill="#1840b8"/><rect x="371.7" y="15.700000000000001" width="4.8" height="3" fill="#fff" opacity="0.92"/><rect x="372.6" y="16.9" width="3" height="0.9" fill="#2a5ad8"/><rect x="378.3" y="12.3" width="7.6" height="7.6" fill="#4aa828"/><rect x="378.3" y="12.3" width="7.6" height="2" fill="#2e8a18"/><rect x="379.7" y="15.700000000000001" width="4.8" height="3" fill="#fff" opacity="0.92"/><rect x="380.6" y="16.9" width="3" height="0.9" fill="#4aa828"/><path d="M467.5 5h6l3 3v9h-9z" fill="#fbfbfb" stroke="#888" stroke-width="0.8"/><path d="M470.5 7.5v6M470.5 8h2M470.5 13h1.5" stroke="#666" stroke-width="0.8" fill="none"/><path d="M476 10.4h3.4v3.4h3.4v3.4h-3.4v3.4h-3.4v-3.4h-3.4v-3.4h3.4z" fill="#30c830" stroke="#168a16" stroke-width="0.7"/><polygon points="489.2,11 494.4,11 491.8,13.6" fill="#000"/><polygon points="527.8,11 533.0,11 530.4,13.6" fill="#000"/><polygon points="567,11 572.2,11 569.6,13.6" fill="#000"/><polygon points="873,11 878.2,11 875.6,13.6" fill="#000"/><circle cx="513" cy="11.8" r="7.6" fill="#1c6ae0"/><circle cx="513" cy="11.8" r="7.6" fill="none" stroke="#0e48b0" stroke-width="0.8"/><circle cx="513" cy="11.6" r="5.2" fill="#f4f8ff"/><path d="M513 8v3.8h2.6" stroke="#333" stroke-width="1" fill="none"/><rect x="544.5" y="5" width="15.2" height="13.6" fill="#f8fbff" stroke="#3a78d8" stroke-width="1"/><rect x="544.5" y="5" width="15.2" height="2.4" fill="#3a78d8"/><line x1="545" y1="12.6" x2="559.5" y2="12.6" stroke="#3a78d8" stroke-width="0.9"/><path d="M546.5 11l3-1.2 2.5.6 3-1.6 2.8-.4" stroke="#b03010" stroke-width="1.1" fill="none"/><path d="M546.5 16.6l3-1.4 2 .8 2.5-1.8 3 1.8" stroke="#1a961a" stroke-width="1.1" fill="none"/><path d="M596 5v12.2l2.9-2.7 2.2 4.7 1.9-.9-2.2-4.6h3.9z" fill="#454545"/><path d="M628.5 5v5.6M628.5 14v5.6M621 12.3h5.8M630.2 12.3h5.8" stroke="#454545" stroke-width="1.1" fill="none"/><path d="M662.5 6v13M685 12.3h11.8M713 19L725 7" stroke="#454545" stroke-width="1.2" fill="none"/><path d="M739 17.5L751 6.5M742.5 19.5L753.5 9" stroke="#454545" stroke-width="1" fill="none"/><path d="M741 13.5l9 1M743.5 10.5l8 1.5M742 16.5l4-7M745.5 17l4-8.5M749 15l3-8" stroke="#454545" stroke-width="0.7" fill="none"/><text x="749.5" y="20.3" font-size="6.3" font-weight="bold" fill="#454545">E</text><line x1="768" y1="5.3" x2="781.2" y2="5.3" stroke="#454545" stroke-width="1" stroke-dasharray="1 1"/><line x1="768" y1="8.6" x2="781.2" y2="8.6" stroke="#454545" stroke-width="1" stroke-dasharray="1 1"/><line x1="768" y1="12.4" x2="781.2" y2="12.4" stroke="#454545" stroke-width="1" stroke-dasharray="1 1"/><line x1="768" y1="16.4" x2="777" y2="16.4" stroke="#454545" stroke-width="1" stroke-dasharray="1 1"/><text x="777.8" y="20.3" font-size="6.3" font-weight="bold" fill="#454545">F</text><text x="799" y="16.4" font-size="11.2" fill="#505050">A</text><rect x="824.5" y="5.5" width="12" height="13" fill="none" stroke="#454545" stroke-width="1" stroke-dasharray="1 1" shape-rendering="crispEdges"/><text x="827" y="16.4" font-size="10.6" font-weight="bold" fill="#5a5a5a">T</text><polygon points="855,6 858.3,9.2 855,12.4 851.7,9.2" fill="#454545"/><polygon points="862.5,12.3 866,15.6 862.5,18.9 859,15.6" fill="#454545"/><path d="M854 14.2l2.2 2.2 5-6" stroke="#454545" stroke-width="1.1" fill="none"/><text x="899.3" y="15.8" font-size="9.6" fill="#3c3c3c">M1</text><text x="927.5" y="15.8" font-size="9.6" fill="#3c3c3c">M5</text><text x="953.3" y="15.8" font-size="9.6" fill="#3c3c3c">M15</text><text x="981.3" y="15.8" font-size="9.6" fill="#3c3c3c">M30</text><text x="1012.3" y="15.8" font-size="9.6" fill="#3c3c3c">H1</text><text x="1039.5" y="15.8" font-size="9.6" fill="#3c3c3c">H4</text><text x="1068" y="15.8" font-size="9.6" fill="#3c3c3c">D1</text><text x="1096" y="15.8" font-size="9.6" fill="#3c3c3c">W1</text><text x="1122.3" y="15.8" font-size="9.6" fill="#3c3c3c">MN</text><line x1="1608.3" y1="16.6" x2="1612.4" y2="12.6" stroke="#2a5cd0" stroke-width="2.4" stroke-linecap="round"/><circle cx="1615.6" cy="9" r="3.9" fill="#f6f9ff" stroke="#2a5cd0" stroke-width="1.3"/><path d="M1642 8.8a6.3 4.6 0 1 1 10 3.7l.6 2.6-2.6-1.7a6.3 4.6 0 0 1-8-4.6z" fill="#f2f2f4" stroke="#a0a0a0" stroke-width="0.9"/><path d="M1634.3 12.8a5 3.6 0 1 1 5.6 3.5l-3 2.2.5-2.5a5 3.6 0 0 1-3.1-3.2z" fill="#f6f6f8" stroke="#909090" stroke-width="0.9"/>
</svg>
</body></html>
